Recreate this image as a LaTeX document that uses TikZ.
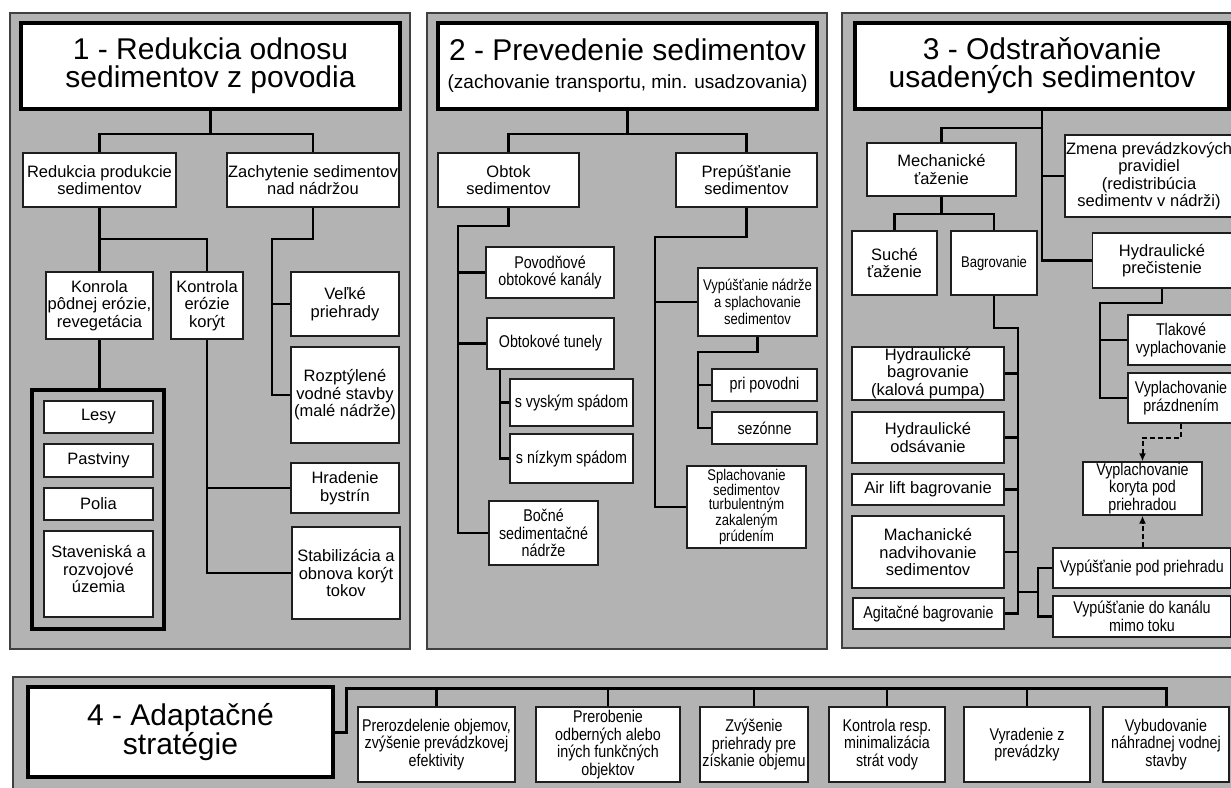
\documentclass[tikz,border=0pt]{standalone}
\usepackage{fontspec}
\setmainfont{Liberation Sans}
\newfontfamily\narrowfont[FakeStretch=0.84]{Liberation Sans}
\usepackage{xcolor}
\usepackage{tikz}
\usetikzlibrary{arrows.meta}
\definecolor{panelgray}{RGB}{179,179,179}
\definecolor{boxline}{RGB}{30,30,30}

\begin{document}
\begin{tikzpicture}[x=1pt,y=-1pt]
  \tikzstyle{panel}=[fill=panelgray,draw=black!75,line width=1.2pt]
  \tikzstyle{titlebox}=[draw=black,fill=white,line width=4pt,align=center,inner sep=0pt,font=\fontsize{30}{28}\selectfont]
  \tikzstyle{sedbox}=[draw=boxline,fill=white,line width=1.5pt,align=center,inner sep=1pt,font=\fontsize{16.5}{17.5}\selectfont]
  \tikzstyle{narrowbox}=[sedbox,font=\narrowfont\fontsize{17}{17.5}\selectfont]
  \tikzstyle{tinybox}=[sedbox,font=\narrowfont\fontsize{15.5}{17}\selectfont]
  \tikzstyle{groupbox}=[draw=black,line width=4.5pt]
  \tikzstyle{conn}=[line width=2.2pt,black]
  \tikzstyle{dasharr}=[line width=2pt,black,dash pattern=on 5pt off 3pt,-{Latex[length=8pt,width=7pt]}]

  \fill[white] (0,0) rectangle (1231,787);
  \useasboundingbox (0,0) rectangle (1231,787);

  % panel backgrounds
  \draw[panel] (10,13) rectangle (410,649);
  \draw[panel] (427,13) rectangle (827,649);
  \draw[panel] (842,13) rectangle (1245,648);
  \draw[panel] (13,677) rectangle (1245,800);

  % 1 - reduction of sediment yield
  \node[titlebox,minimum width=379pt,minimum height=86pt] (t1) at (210.5,66) {1 - Redukcia odnosu\\sedimentov z povodia};
  \node[sedbox,minimum width=153pt,minimum height=54pt] (rp) at (99.5,180) {Redukcia produkcie\\sedimentov};
  \node[sedbox,minimum width=172pt,minimum height=54pt] (zs) at (313,180) {Zachytenie sedimentov\\nad nádržou};
  \node[sedbox,minimum width=107pt,minimum height=67pt] (kp) at (99.5,305.5) {Konrola\\pôdnej erózie,\\revegetácia};
  \node[sedbox,minimum width=72pt,minimum height=67pt] (ke) at (207,305.5) {Kontrola\\erózie\\korýt};
  \node[sedbox,minimum width=108pt,minimum height=64pt] (vp) at (345,304) {Veľké\\priehrady};
  \node[sedbox,minimum width=108pt,minimum height=96pt] (ro) at (345,395) {Rozptýlené\\vodné stavby\\(malé nádrže)};
  \node[groupbox,minimum width=132pt,minimum height=239pt] (grp) at (98,509.5) {};
  \node[sedbox,minimum width=109pt,minimum height=32pt] (ls) at (98.5,417) {Lesy};
  \node[sedbox,minimum width=109pt,minimum height=33pt] (pa) at (98.5,460.5) {Pastviny};
  \node[sedbox,minimum width=109pt,minimum height=32pt] (po) at (98.5,504) {Polia};
  \node[sedbox,minimum width=109pt,minimum height=86pt] (st) at (98.5,574) {Staveniská a\\rozvojové\\územia\\[-8pt]};
  \node[sedbox,minimum width=108pt,minimum height=50pt] (hb) at (345,488) {Hradenie\\bystrín};
  \node[sedbox,minimum width=108pt,minimum height=92pt] (so) at (346,573) {Stabilizácia a\\obnova korýt\\tokov};

  \draw[conn] (t1.south) -- ++(0,23) coordinate (t1j);
  \draw[conn] (t1j) -| (rp.north);
  \draw[conn] (t1j) -| (zs.north);
  \draw[conn] (rp.south) -- ++(0,31) coordinate (rpj);
  \draw[conn] (rpj) -| (kp.north);
  \draw[conn] (rpj) -| (ke.north);
  \coordinate (zbus) at (272,239);
  \draw[conn] (zs.south) |- (zbus) |- (ro.west);
  \draw[conn] (vp.west) -- (vp.west -| zbus);
  \draw[conn] (kp.south) -- (kp.south |- grp.north);
  \draw[conn] (ke.south) |- (hb.west);
  \draw[conn] (ke.south) |- (so.west);

  % 2 - sediment routing
  \node[titlebox,minimum width=379pt,minimum height=86pt] (t2) at (627.5,66) {2 - Prevedenie sedimentov\\{\fontsize{19}{28}\selectfont (zachovanie transportu, min. usadzovania)}};
  \node[sedbox,minimum width=141pt,minimum height=54pt] (ob) at (508.5,180) {Obtok\\sedimentov};
  \node[sedbox,minimum width=141pt,minimum height=54pt] (pp) at (746.5,180) {Prepúšťanie\\sedimentov};
  \node[narrowbox,minimum width=128pt,minimum height=51pt] (pk) at (550,272.5) {Povodňové\\obtokové kanály};
  \node[narrowbox,minimum width=127pt,minimum height=51pt] (ot) at (550.5,343.5) {Obtokové tunely};
  \node[narrowbox,minimum width=123pt,minimum height=47pt] (vs) at (571.5,402.5) {s vyským spádom};
  \node[narrowbox,minimum width=123pt,minimum height=49pt] (ns) at (571.5,458.5) {s nízkym spádom};
  \node[narrowbox,minimum width=109pt,minimum height=64pt] (bn) at (543.5,533) {Bočné\\sedimentačné\\nádrže};
  \node[tinybox,minimum width=119pt,minimum height=68pt] (vn) at (757.5,302) {Vypúšťanie nádrže\\a splachovanie\\sedimentov};
  \node[narrowbox,minimum width=105pt,minimum height=32pt] (pv) at (764.5,385) {pri povodni};
  \node[narrowbox,minimum width=105pt,minimum height=32pt] (sz) at (764.5,428) {sezónne};
  \node[tinybox,font=\narrowfont\fontsize{15.5}{14.5}\selectfont,minimum width=119pt,minimum height=82pt] (sp) at (746.5,507) {Splachovanie\\sedimentov\\turbulentným\\zakaleným\\prúdením};

  \draw[conn] (t2.south) -- ++(0,23) coordinate (t2j);
  \draw[conn] (t2j) -| (ob.north);
  \draw[conn] (t2j) -| (pp.north);
  \coordinate (obus) at (458,226);
  \draw[conn] (ob.south) |- (obus) |- (bn.west);
  \draw[conn] (pk.west) -- (pk.west -| obus);
  \draw[conn] (ot.west) -- (ot.west -| obus);
  \coordinate (tbus) at (500,369);
  \draw[conn] (ot.south -| tbus) |- (ns.west);
  \draw[conn] (vs.west) -- (vs.west -| tbus);
  \coordinate (pbus) at (655,237);
  \draw[conn] (pp.south) |- (pbus) |- (sp.west);
  \draw[conn] (vn.west) -- (vn.west -| pbus);
  \coordinate (vbus) at (698,352);
  \draw[conn] (vn.south) |- (vbus) |- (sz.west);
  \draw[conn] (pv.west) -- (pv.west -| vbus);

  % 3 - removal of deposited sediments
  \node[titlebox,minimum width=374pt,minimum height=86pt] (t3) at (1042,66) {3 - Odstraňovanie\\usadených sedimentov};
  \node[sedbox,minimum width=149pt,minimum height=53pt] (me) at (941.5,169.5) {Mechanické\\ťaženie};
  \node[sedbox,minimum width=168pt,minimum height=82pt] (zp) at (1149,176) {Zmena prevádzkových\\pravidiel\\(redistribúcia\\sedimentv v nádrži)};
  \node[sedbox,minimum width=85pt,minimum height=64pt] (su) at (894.5,263) {Suché\\ťaženie};
  \node[tinybox,minimum width=86pt,minimum height=64pt] (bg) at (994,263) {Bagrovanie};
  \node[sedbox,minimum width=139pt,minimum height=55pt] (hp) at (1162,260.5) {Hydraulické\\prečistenie};
  \node[narrowbox,minimum width=106pt,minimum height=50pt] (tv) at (1181,340) {Tlakové\\vyplachovanie};
  \node[narrowbox,minimum width=106pt,minimum height=50pt] (vpr) at (1181,398) {Vyplachovanie\\prázdnením};
  \node[sedbox,minimum width=152pt,minimum height=53pt] (hbg) at (928,373.5) {Hydraulické\\bagrovanie\\(kalová pumpa)};
  \node[sedbox,minimum width=152pt,minimum height=51pt] (hod) at (928,437.5) {Hydraulické\\odsávanie};
  \node[sedbox,minimum width=152pt,minimum height=31pt] (al) at (928,489.5) {Air lift bagrovanie};
  \node[sedbox,minimum width=152pt,minimum height=72pt] (mn) at (928,552) {Machanické\\nadvihovanie\\sedimentov};
  \node[narrowbox,minimum width=151pt,minimum height=31pt] (ag) at (928.5,613.5) {Agitačné bagrovanie};
  \node[narrowbox,minimum width=119pt,minimum height=51pt] (vk) at (1142.5,488.5) {Vyplachovanie\\koryta pod\\priehradou};
  \node[narrowbox,minimum width=178pt,minimum height=40pt] (vpp) at (1142,568) {Vypúšťanie pod priehradu};
  \node[narrowbox,minimum width=178pt,minimum height=41pt] (vdk) at (1142,616.5) {Vypúšťanie do kanálu\\mimo toku};

  \draw[conn] (t3.south) |- (hp.west);
  \draw[conn] ([yshift=-17pt]t3.south) -| (me.north);
  \draw[conn] (zp.west) -- (zp.west -| t3.south);
  \draw[conn] (me.south) -- ++(0,17) coordinate (mej);
  \draw[conn] (mej) -| (su.north);
  \draw[conn] (mej) -| (bg.north);
  \coordinate (bbus) at (1018,328);
  \draw[conn] (bg.south) |- (bbus) |- (ag.east);
  \foreach \b in {hbg,hod,al,mn}
    \draw[conn] (\b.east) -- (\b.east -| bbus);
  \coordinate (dbus) at (1038,592);
  \draw[conn] (dbus -| bbus) -- (dbus);
  \draw[conn] (dbus) |- (vpp.west);
  \draw[conn] (dbus) |- (vdk.west);
  \coordinate (hbus) at (1100,303);
  \draw[conn] (hp.south) |- (hbus) |- (vpr.west);
  \draw[conn] (tv.west) -- (tv.west -| hbus);
  \draw[dasharr] (vpr.south) -- ++(0,14) -| (vk.north);
  \draw[dasharr] (vk.south |- vpp.north) -- (vk.south);

  % 4 - adaptive strategies
  \node[titlebox,minimum width=305pt,minimum height=90pt] (t4) at (180.5,732) {4 - Adaptačné\\stratégie};
  \node[narrowbox,minimum width=157pt,minimum height=75pt] (a1) at (436.5,744.5) {Prerozdelenie objemov,\\zvýšenie prevádzkovej\\efektivity};
  \node[narrowbox,minimum width=144pt,minimum height=75pt] (a2) at (608,744.5) {Prerobenie\\odberných alebo\\iných funkčných\\objektov};
  \node[narrowbox,minimum width=108pt,minimum height=75pt] (a3) at (754,744.5) {Zvýšenie\\priehrady pre\\získanie objemu};
  \node[narrowbox,minimum width=116pt,minimum height=75pt] (a4) at (887,744.5) {Kontrola resp.\\minimalizácia\\strát vody};
  \node[narrowbox,minimum width=126pt,minimum height=75pt] (a5) at (1027,744.5) {Vyradenie z\\prevádzky};
  \node[narrowbox,minimum width=126pt,minimum height=75pt] (a6) at (1166,744.5) {Vybudovanie\\náhradnej vodnej\\stavby};

  \coordinate (abus) at (346,688);
  \draw[conn,line width=3pt] (t4.east) -| (abus) -- (abus -| a6.north) -- (a6.north);
  \foreach \a in {a1,a2,a3,a4,a5}
    \draw[conn] (\a.north) -- (\a.north |- abus);
\end{tikzpicture}
\end{document}
